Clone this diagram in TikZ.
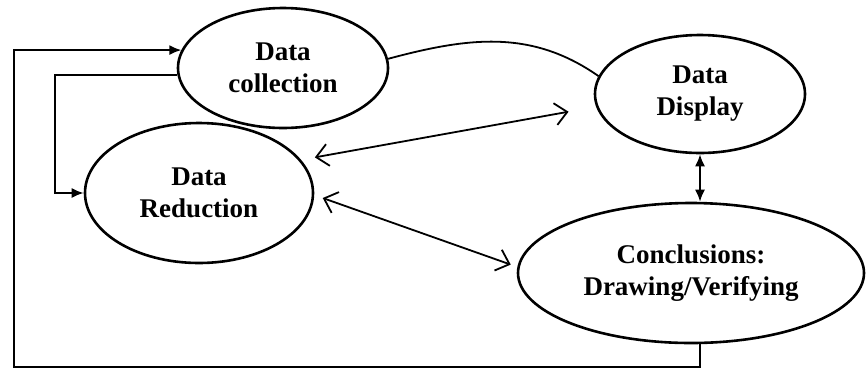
\documentclass[tikz,border=0pt]{standalone}
\usepackage{fontspec}
\setmainfont{Liberation Serif}
\usetikzlibrary{arrows.meta,shapes.geometric,positioning}

\begin{document}
\begin{tikzpicture}[x=0.5pt, y=-0.5pt,
  stage/.style={draw, ellipse, line width=1.3pt, inner sep=0pt, align=center,
    font=\bfseries\fontsize{13.5}{16}\selectfont},
  fb/.style={line width=0.9pt, -{Latex[length=6pt,width=5pt]}},
  bi/.style={line width=0.9pt, {Straight Barb[length=6pt,width=11pt]}-{Straight Barb[length=6pt,width=11pt]}}]
\useasboundingbox (0,0) rectangle (866,376);
\node[stage, minimum width=105pt, minimum height=60pt] (coll) at (283,68) {Data\\collection};
\node[stage, minimum width=114pt, minimum height=70pt] (red) at (199,193) {Data\\Reduction};
\node[stage, minimum width=105pt, minimum height=59pt] (disp) at (700,94) {Data\\Display};
\node[stage, minimum width=173pt, minimum height=70pt] (concl) at (691,273) {Conclusions:\\Drawing/Verifying};

\coordinate (loopbl) at (14,367);
\coordinate (redin) at (55,193);

\draw[line width=0.9pt] (coll.5) to[out=15, in=145] (disp.170);
\draw[bi, shorten <=7pt, shorten >=14pt] (red.18) -- (disp.187);
\draw[bi, shorten <=4.5pt, shorten >=3.5pt] (red.-1) -- (concl.178.5);
\draw[line width=0.9pt, {Latex[length=6pt,width=5pt]}-{Latex[length=6pt,width=5pt]}] (disp.south) -- (disp.south |- concl.north);
\draw[fb] (coll.184) -| (redin) -- (red.west);
\draw[fb] (disp.south |- concl.south) |- (loopbl) |- (coll.170);
\end{tikzpicture}
\end{document}
